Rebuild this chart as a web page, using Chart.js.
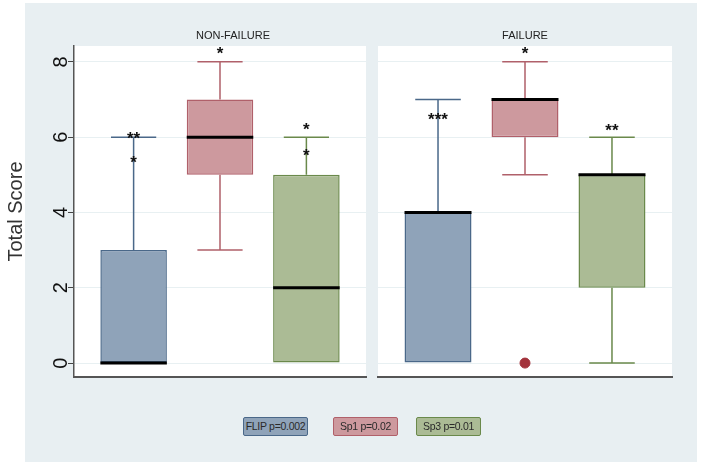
<!DOCTYPE html>
<html>
<head>
<meta charset="utf-8">
<script src="https://cdn.jsdelivr.net/npm/chart.js@4.4.1/dist/chart.umd.min.js"></script>
<style>
  body { margin: 0; background: #fff; width: 702px; height: 465px; position: relative; overflow: hidden;
         font-family: "Liberation Sans", Arial, sans-serif; }
  #bg { position: absolute; left: 25px; top: 3px; width: 672px; height: 459px; background: #e8eff2; }
  canvas { position: absolute; top: 0; }
  #left { left: 0; }
  #right { left: 370px; }
  .ptitle { position: absolute; top: 29px; font-size: 11px; color: #222; transform: translateX(-50%); white-space: nowrap; }
  .leg { position: absolute; top: 417px; width: 63px; height: 17px; border: 1.5px solid; border-radius: 2px;
         font-size: 10.5px; line-height: 17px; text-align: center; color: #2a2a2a; white-space: nowrap;
         letter-spacing: -0.3px; overflow: hidden; }
</style>
</head>
<body>
<div id="bg"></div>
<canvas id="left" width="370" height="465"></canvas>
<canvas id="right" width="332" height="465"></canvas>
<div class="ptitle" style="left:233px">NON-FAILURE</div>
<div class="ptitle" style="left:525px">FAILURE</div>
<div id="legend"></div>
<script>
const groups = ['FLIP', 'Sp1', 'Sp3'];
const xPos = [1, 2, 3];
const yTicks = [0, 2, 4, 6, 8];
const fills = ['#8fa3b9', '#cd999e', '#abbb95'];
const borders = ['#4a6889', '#b0606a', '#6a894b'];
const legendLabels = ['FLIP p=0.002', 'Sp1 p=0.02', 'Sp3 p=0.01'];

// NON-FAILURE panel
const nfLow = [0, 3, 0];
const nfQ1 = [0, 5, 0];
const nfMedian = [0, 6, 2];
const nfQ3 = [3, 7, 5];
const nfHigh = [6, 8, 6];
const nfStars = [['**', 0, 6.05], ['*', 0, 5.4], ['*', 1, 8.3], ['*', 2, 6.3], ['*', 2, 5.6]];

// FAILURE panel
const fLow = [0, 5, 0];
const fQ1 = [0, 6, 2];
const fMedian = [4, 7, 5];
const fQ3 = [4, 7, 5];
const fHigh = [7, 8, 6];
const fOutliers = [[1, 0]];
const fStars = [['***', 0, 6.55], ['*', 1, 8.3], ['**', 2, 6.25]];

// whiskers, medians, star labels and rotated y tick labels
const boxPlugin = {
  id: 'boxes',
  beforeDraw(chart) {
    const a = chart.chartArea, ctx = chart.ctx;
    ctx.save();
    ctx.fillStyle = '#fff';
    ctx.fillRect(a.left, a.top, a.right - a.left, a.bottom - a.top);
    ctx.restore();
  },
  beforeDatasetsDraw(chart, args, opts) {
    const ctx = chart.ctx, y = chart.scales.y;
    const bars = chart.getDatasetMeta(0).data;
    ctx.save();
    ctx.lineWidth = 1.5;
    bars.forEach((bar, i) => {
      const cap = bar.width * 0.34;
      ctx.strokeStyle = borders[i];
      ctx.beginPath();
      ctx.moveTo(bar.x, y.getPixelForValue(opts.q3[i]));
      ctx.lineTo(bar.x, y.getPixelForValue(opts.high[i]));
      ctx.moveTo(bar.x - cap, y.getPixelForValue(opts.high[i]));
      ctx.lineTo(bar.x + cap, y.getPixelForValue(opts.high[i]));
      if (opts.low[i] < opts.q1[i]) {
        ctx.moveTo(bar.x, y.getPixelForValue(opts.q1[i]));
        ctx.lineTo(bar.x, y.getPixelForValue(opts.low[i]));
        ctx.moveTo(bar.x - cap, y.getPixelForValue(opts.low[i]));
        ctx.lineTo(bar.x + cap, y.getPixelForValue(opts.low[i]));
      }
      ctx.stroke();
    });
    ctx.restore();
  },
  afterDatasetsDraw(chart, args, opts) {
    const ctx = chart.ctx, y = chart.scales.y;
    const bars = chart.getDatasetMeta(0).data;
    ctx.save();
    ctx.strokeStyle = '#000';
    ctx.lineWidth = 3;
    bars.forEach((bar, i) => {
      const py = y.getPixelForValue(opts.median[i]);
      ctx.beginPath();
      ctx.moveTo(bar.x - bar.width / 2, py);
      ctx.lineTo(bar.x + bar.width / 2, py);
      ctx.stroke();
    });
    ctx.fillStyle = '#111';
    ctx.font = 'bold 17px "Liberation Sans", Arial, sans-serif';
    ctx.textAlign = 'center';
    ctx.textBaseline = 'middle';
    opts.stars.forEach(([t, g, v]) => {
      ctx.fillText(t, bars[g].x, y.getPixelForValue(v) + 4);
    });
    if (opts.tickLabels) {
      ctx.font = '20px "Liberation Sans", Arial, sans-serif';
      yTicks.forEach(v => {
        ctx.save();
        ctx.translate(y.right - 13, y.getPixelForValue(v));
        ctx.rotate(-Math.PI / 2);
        ctx.fillText(String(v), 0, 0);
        ctx.restore();
      });
    }
    ctx.restore();
  }
};

function makeChart(id, d) {
  const datasets = [{
    type: 'bar',
    data: xPos.map((x, i) => ({ x: x, y: [d.q1[i], d.q3[i]] })),
    backgroundColor: fills,
    borderColor: borders,
    borderWidth: 1.5,
    borderSkipped: false,
    categoryPercentage: 1,
    barPercentage: 0.77
  }];
  if (d.outliers) {
    datasets.push({
      type: 'scatter',
      data: d.outliers.map(([g, v]) => ({ x: xPos[g], y: v })),
      pointRadius: 5,
      backgroundColor: '#a3333c',
      borderColor: '#a3333c'
    });
  }
  return new Chart(document.getElementById(id), {
    type: 'bar',
    data: { datasets },
    plugins: [boxPlugin],
    options: {
      responsive: false,
      animation: false,
      layout: { padding: { left: d.left ? 0 : 8, right: d.left ? 4 : 30, top: 46, bottom: 0 } },
      scales: {
        x: {
          type: 'linear', min: 0.31, max: 3.69, offset: false,
          afterBuildTicks: s => { s.ticks = xPos.map(v => ({ value: v })); },
          ticks: { display: false },
          grid: { display: false, offset: false },
          border: { display: true, color: '#555', width: 2 },
          afterFit: s => { s.height = 88; }
        },
        y: {
          min: -0.37, max: 8.42,
          afterBuildTicks: s => { s.ticks = yTicks.map(v => ({ value: v })); },
          ticks: { display: false },
          grid: { color: '#e8f0f2', lineWidth: 1, drawTicks: d.left, tickLength: 6, tickColor: '#444' },
          border: { display: d.left, color: '#555', width: 1.5 },
          title: { display: d.left, text: 'Total Score', color: '#333', padding: { top: 4, bottom: 0 },
                   font: { size: 20, family: '"Liberation Sans", Arial, sans-serif' } },
          afterFit: s => { s.width = d.left ? 74 : 0; }
        }
      },
      plugins: {
        legend: { display: false },
        tooltip: { enabled: false },
        boxes: d
      }
    }
  });
}

makeChart('left', { left: true, tickLabels: true, low: nfLow, q1: nfQ1, median: nfMedian, q3: nfQ3, high: nfHigh, stars: nfStars });
makeChart('right', { left: false, tickLabels: false, low: fLow, q1: fQ1, median: fMedian, q3: fQ3, high: fHigh, stars: fStars, outliers: fOutliers });

// legend boxes below the panels
const legX = [243, 333, 416];
const legend = document.getElementById('legend');
legendLabels.forEach((t, i) => {
  const el = document.createElement('div');
  el.className = 'leg';
  el.style.left = legX[i] + 'px';
  el.style.background = fills[i];
  el.style.borderColor = borders[i];
  el.textContent = t;
  legend.appendChild(el);
});
</script>
</body>
</html>
